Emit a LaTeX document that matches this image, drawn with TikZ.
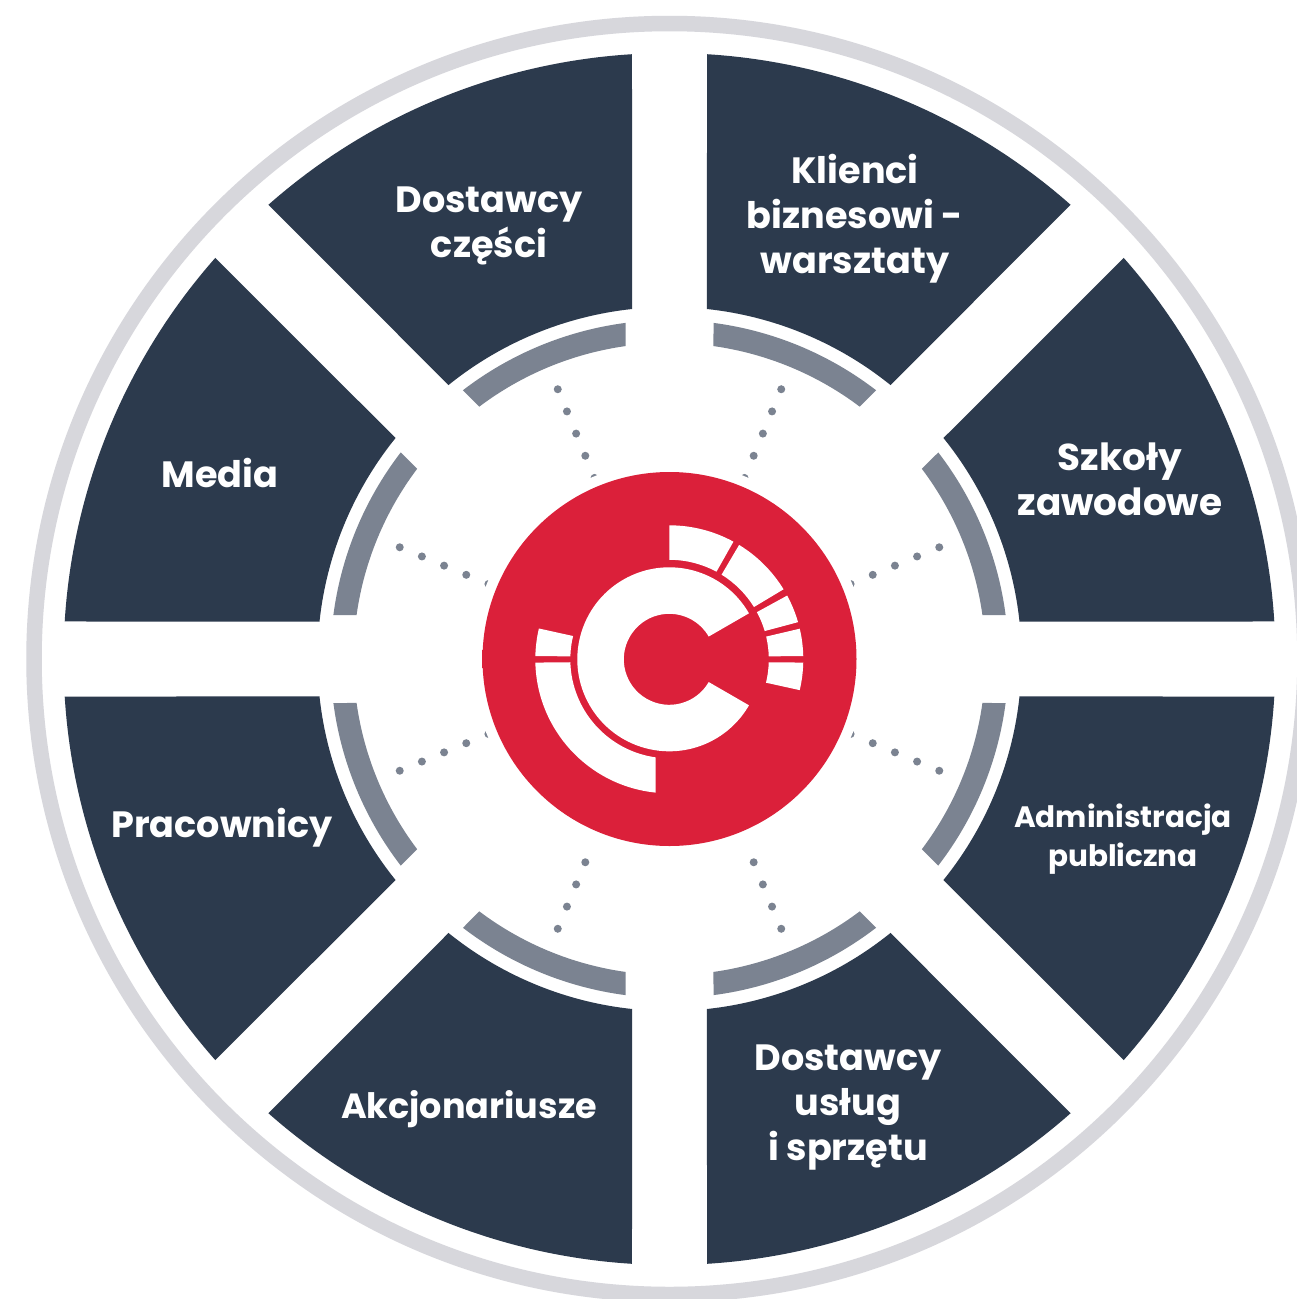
\documentclass[tikz,border=0pt]{standalone}
\usepackage{fontspec}
\setmainfont{Poppins}
\definecolor{navy}{HTML}{2C3A4D}
\definecolor{ringgrey}{HTML}{D7D7DC}
\definecolor{slate}{HTML}{7B8391}
\definecolor{redc}{HTML}{DB203A}
\definecolor{rede}{HTML}{DE2C46}
\pgfdeclareradialshading{redball}{\pgfpointorigin}{color(0bp)=(redc); color(38bp)=(redc); color(50bp)=(rede)}
% ring segment: outer angles, inner angles, outer radius, inner radius
\newcommand{\ringseg}[6]{(#1:#5) arc[start angle=#1,end angle=#2,radius=#5] -- (#4:#6) arc[start angle=#4,end angle=#3,radius=#6] -- cycle}
\tikzset{
  sectortext/.style={text=white,align=center,inner sep=0pt},
  biglabel/.style={sectortext,font=\bfseries\fontsize{36.6}{45}\selectfont},
  widelabel/.style={sectortext,font=\bfseries\fontsize{37.4}{45}\selectfont},
  longlabel/.style={sectortext,font=\bfseries\fontsize{35}{45}\selectfont},
  smalllabel/.style={sectortext,font=\bfseries\fontsize{29.5}{39}\selectfont},
}
\begin{document}
\begin{tikzpicture}[x=1pt,y=1pt]
\useasboundingbox (0,0) rectangle (1297,-1299);
\clip (0,0) rectangle (1297,-1299);
\fill[white] (0,0) rectangle (1297,-1299);
\begin{scope}[shift={(669.5,-659)}]
  \draw[ringgrey,line width=15.5pt] (0,0) circle[radius=635.5];
  \foreach \k in {0,...,7}{
    \pgfmathsetmacro{\ao}{45*\k}
    \pgfmathsetmacro{\ab}{45*\k+45}
    \pgfmathsetmacro{\am}{45*\k+22.5}
    \pgfmathsetmacro{\aoa}{\ao+3.55}\pgfmathsetmacro{\aob}{\ab-3.55}
    \pgfmathsetmacro{\aia}{\ao+6.11}\pgfmathsetmacro{\aib}{\ab-6.11}
    \fill[navy] \ringseg{\aoa}{\aob}{\aia}{\aib}{606}{352};
    \pgfmathsetmacro{\aoa}{\ao+7.46}\pgfmathsetmacro{\aob}{\ab-7.46}
    \pgfmathsetmacro{\aia}{\ao+8}\pgfmathsetmacro{\aib}{\ab-8}
    \fill[slate] \ringseg{\aoa}{\aob}{\aia}{\aib}{339}{316};
    \foreach \r in {292,268,244,220}{
      \fill[slate] (\am:\r) circle[radius=4];
    }
    \ifnum\k=5\else\ifnum\k=6\else
      \fill[slate] (\am:196) circle[radius=4];
    \fi\fi
  }
  \fill[white] (0,0) circle[radius=197.5];
  \shade[shading=redball] (0,0) circle[radius=187];
  \begin{scope}[shift={(-0.2,-0.3)}]
    \fill[white] \ringseg{30}{330}{30}{330}{92}{45.5};
    \fill[white] \ringseg{90}{61.4}{90}{61.7}{134}{99.5};
    \fill[white] \ringseg{58.6}{31.5}{58.3}{31.7}{134}{99.5};
    \fill[white] \ringseg{28.4}{16.1}{28.3}{16.5}{134}{99.5};
    \fill[white] \ringseg{13.2}{1.4}{13.2}{1.7}{134}{99.5};
    \fill[white] \ringseg{-1.4}{-13.3}{-1.7}{-13.6}{134}{99.5};
    \fill[white] \ringseg{166.7}{178.6}{166.4}{178.3}{134}{99};
    \fill[white] \ringseg{181.4}{264.1}{181.7}{262.1}{134}{99};
  \end{scope}
\end{scope}
\node[biglabel] (klienci) at (855,-219) {Klienci\\biznesowi -\\warsztaty};
\node[biglabel] (czesci) at (489,-225.5) {Dostawcy\\części};
\node[biglabel] (media) at (220,-473) {Media};
\node[widelabel] (szkoly) at (1120,-479) {Szkoły\\zawodowe};
\node[smalllabel] (admin) at (1123,-839.5) {Administracja\\publiczna};
\node[biglabel] (uslugi) at (848,-1108) {Dostawcy\\usług\\i sprzętu};
\node[longlabel] (akcje) at (469,-1109) {Akcjonariusze};
\node[biglabel] (prac) at (222,-828) {Pracownicy};
\end{tikzpicture}
\end{document}
